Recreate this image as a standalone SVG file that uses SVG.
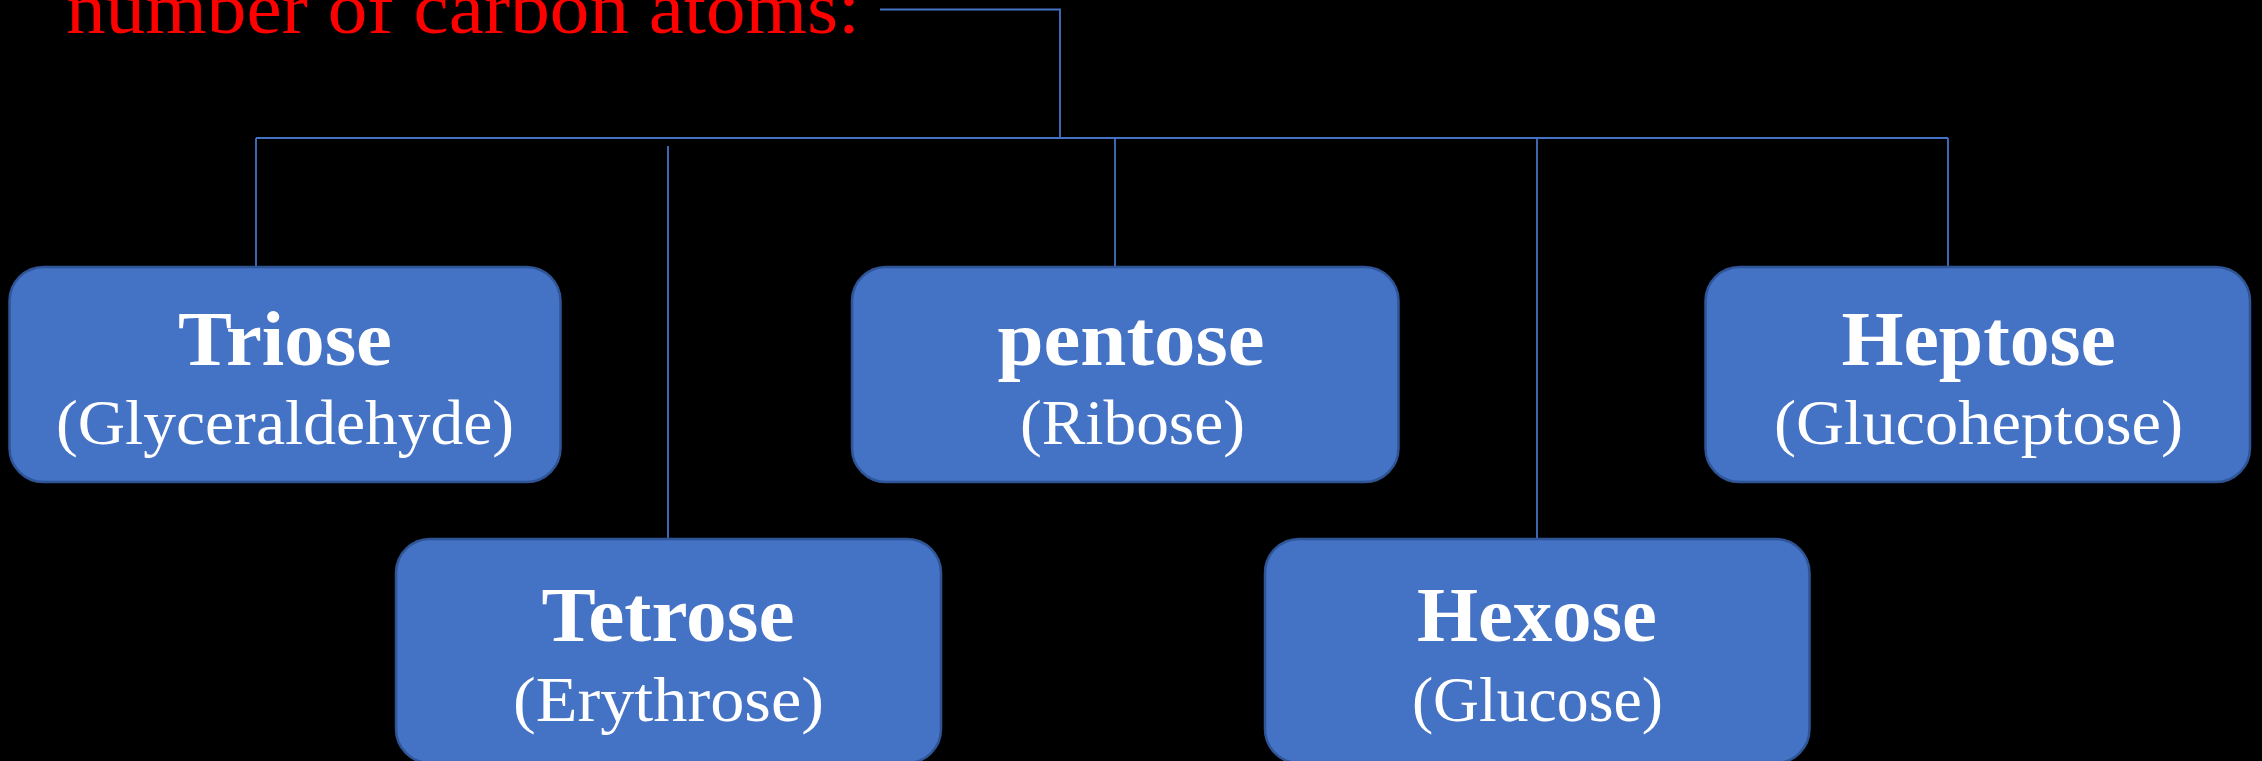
<svg xmlns="http://www.w3.org/2000/svg" width="2262" height="761" viewBox="0 0 2262 761">
<style>
.box{fill:#4472C4;stroke:#2F5597;stroke-width:2.5}
.conn{fill:none;stroke:#4472C4;stroke-width:1.8}
.t1{font-family:"Liberation Serif","DejaVu Serif",serif;font-weight:bold;font-size:79px;fill:#FFFFFF;text-anchor:middle}
.t2{font-family:"Liberation Serif","DejaVu Serif",serif;font-size:63px;fill:#FFFFFF;text-anchor:middle}
.title{font-family:"Liberation Serif","DejaVu Serif",serif;font-size:75px;fill:#FF0000}
</style>
<rect width="2262" height="761" fill="#000000"/>
<g id="title">
<text class="title" x="66" y="33" textLength="794" lengthAdjust="spacingAndGlyphs">number of carbon atoms:</text>
</g>
<g id="connectors">
<path class="conn" d="M880,9.5 H1060 V138"/>
<path class="conn" d="M256,138 H1948"/>
<path class="conn" d="M256,138 V267"/>
<path class="conn" d="M1115,138 V267"/>
<path class="conn" d="M1537,138 V539"/>
<path class="conn" d="M1948,138 V267"/>
<path class="conn" d="M668,146 V539"/>
</g>
<g id="triose">
<rect class="box" x="9.5" y="267" width="551" height="215" rx="34" ry="34"/>
<text class="t1" x="285" y="365" textLength="214" lengthAdjust="spacingAndGlyphs">Triose</text>
<text class="t2" x="285" y="444" textLength="458" lengthAdjust="spacingAndGlyphs">(Glyceraldehyde)</text>
</g>
<g id="tetrose">
<rect class="box" x="396" y="539" width="545" height="224" rx="34" ry="34"/>
<text class="t1" x="668" y="641" textLength="253" lengthAdjust="spacingAndGlyphs">Tetrose</text>
<text class="t2" x="668.5" y="720.5" textLength="311" lengthAdjust="spacingAndGlyphs">(Erythrose)</text>
</g>
<g id="pentose">
<rect class="box" x="852" y="267" width="546.5" height="215" rx="34" ry="34"/>
<text class="t1" x="1131" y="365" textLength="267" lengthAdjust="spacingAndGlyphs">pentose</text>
<text class="t2" x="1132.5" y="444" textLength="225" lengthAdjust="spacingAndGlyphs">(Ribose)</text>
</g>
<g id="hexose">
<rect class="box" x="1265" y="539" width="544.5" height="224" rx="34" ry="34"/>
<text class="t1" x="1537" y="641" textLength="240" lengthAdjust="spacingAndGlyphs">Hexose</text>
<text class="t2" x="1537.4" y="720.5" textLength="251" lengthAdjust="spacingAndGlyphs">(Glucose)</text>
</g>
<g id="heptose">
<rect class="box" x="1705.5" y="267" width="544.5" height="215" rx="34" ry="34"/>
<text class="t1" x="1978.7" y="365" textLength="274.6" lengthAdjust="spacingAndGlyphs">Heptose</text>
<text class="t2" x="1978.5" y="444" textLength="409" lengthAdjust="spacingAndGlyphs">(Glucoheptose)</text>
</g>
</svg>
